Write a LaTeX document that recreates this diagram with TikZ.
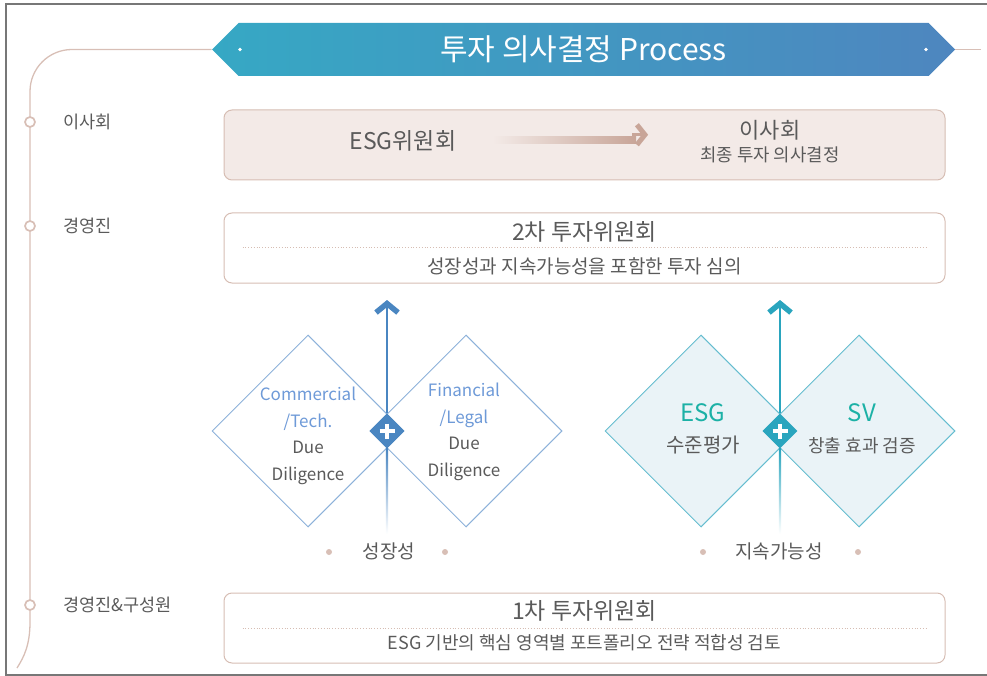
\documentclass[tikz,border=0pt]{standalone}
\usepackage{fontspec}
\setmainfont{Noto Sans CJK KR}
\usepackage{tikz}
\usetikzlibrary{arrows,arrows.meta,shapes,positioning,calc}
\definecolor{lineBrown}{HTML}{D8BFB6}
\definecolor{textGray}{HTML}{5A5A5A}
\definecolor{frameGray}{HTML}{777777}
\definecolor{boardFill}{HTML}{F3EAE7}
\definecolor{boxBorder}{HTML}{D6BDB3}
\definecolor{arrowBrown}{HTML}{C8A598}
\definecolor{growthBlue}{HTML}{4A86C1}
\definecolor{growthText}{HTML}{6E9AD8}
\definecolor{growthEdge}{HTML}{8DB2DA}
\definecolor{susTeal}{HTML}{2AA5BE}
\definecolor{susEdge}{HTML}{66BDD0}
\definecolor{susFill}{HTML}{EAF3F7}
\definecolor{susText}{HTML}{1CB1A6}
\definecolor{bannerLeft}{HTML}{36A8C4}
\definecolor{bannerRight}{HTML}{4E86BF}
\tikzstyle{titlebanner} = [signal, signal to=west and east, signal pointer angle=90,
    left color=bannerLeft, right color=bannerRight, minimum width=743pt,
    minimum height=53pt, inner sep=0pt, text=white, font=\fontsize{30}{32}\selectfont]
\tikzstyle{timeline} = [draw=lineBrown, line width=1.3pt]
\tikzstyle{stepdot} = [circle, draw=lineBrown, fill=white, line width=1.7pt,
    minimum size=10pt, inner sep=0pt]
\tikzstyle{rolelabel} = [text=textGray, font=\fontsize{17.5}{19}\selectfont, inner sep=0pt]
\tikzstyle{rowbox} = [rectangle, draw=boxBorder, line width=1pt, rounded corners=8pt,
    minimum width=721pt, minimum height=70pt]
\tikzstyle{boardbox} = [rowbox, fill=boardFill]
\tikzstyle{headtext} = [text=textGray, font=\fontsize{23}{25}\selectfont]
\tikzstyle{subtext} = [text=textGray, font=\fontsize{19}{21}\selectfont]
\tikzstyle{dotline} = [draw=boxBorder, dotted, line width=0.8pt]
\tikzstyle{growthdiamond} = [diamond, aspect=1, draw=growthEdge, line width=1pt, fill=white,
    minimum width=192pt, minimum height=192pt, inner sep=0pt]
\tikzstyle{susdiamond} = [growthdiamond, draw=susEdge, fill=susFill]
\tikzstyle{diamondtext} = [text=textGray, align=center, font=\fontsize{17}{26.7}\selectfont]
\tikzstyle{badge} = [diamond, aspect=1, minimum width=35pt, minimum height=35pt, inner sep=0pt]
\tikzstyle{plussign} = [draw=white, line width=4pt]
\tikzstyle{uparrow} = [line width=2.4pt, -{Straight Barb[length=9pt,width=22pt,line width=5.5pt]}]
\tikzstyle{pairdot} = [circle, fill=lineBrown, minimum size=6pt, inner sep=0pt]

\begin{document}
\begin{tikzpicture}[x=1pt, y=-1pt]
    \useasboundingbox (0,0) rectangle (987,676);
    \draw[frameGray, line width=1.2pt] (6,4) rectangle (1000,675);

    % Place nodes
    \node [titlebanner] (titleBanner) at (583.5,49.5) {투자 의사결정 Process};
    \fill [white] (240,49.5) circle (1.8pt) (926,49.5) circle (1.8pt);

    \draw [timeline, rounded corners=42pt] (titleBanner.west) -- (30,49.5) [sharp corners] -- (30,622)
        .. controls (30,645) and (24,657) .. (17,668);
    \draw [timeline] (titleBanner.east) -- (981,49.5);

    \node [stepdot] (dotBoard) at (30,122) {}; \node [rolelabel, right=27pt of dotBoard] (roleBoard) {이사회};
    \node [stepdot] (dotMgmt)  at (30,226) {}; \node [rolelabel, right=27pt of dotMgmt]  (roleMgmt)  {경영진};
    \node [stepdot] (dotStaff) at (30,605) {}; \node [rolelabel, right=27pt of dotStaff] (roleStaff) {경영진\&구성원};

    % board row
    \node [boardbox] (boardRow) at (584.5,145) {};
    \node [headtext] (esgCom) at (403,141) {ESG위원회};
    \node [headtext, font=\fontsize{22}{24}\selectfont] (boardDec) at (770,130) {이사회};
    \node [subtext, font=\fontsize{17.8}{19}\selectfont, below=0pt of boardDec] (boardSub) {최종 투자 의사결정};
    \shade [left color=boardFill, right color=arrowBrown]
        ($(esgCom.east)+(33,3)$) rectangle ($(boardDec.west)+(-100,6.5)$);
    \draw [arrowBrown, line width=3pt, -{Straight Barb[length=8pt,width=20pt,line width=5pt]}]
        ($(boardDec.west)+(-104,4.75)$) -- ($(boardDec.west)+(-88,4.75)$);

    % second committee
    \node [rowbox] (secondCom) at (584.5,248) {};
    \node [headtext] (secondTitle) at (584.5,232) {2차 투자위원회};
    \draw [dotline] ($(secondCom.west)+(19,-1)$) -- ($(secondCom.east)+(-18,-1)$);
    \node [subtext] (secondSub) at (584.5,266) {성장성과 지속가능성을 포함한 투자 심의};

    % growth pair
    \node [growthdiamond] (commDD) at (308,431) {};
    \node [growthdiamond] (finDD)  at (466,431) {};
    \node [badge, fill=growthBlue] (badgeG) at (387,431) {};
    \coordinate (growthTop) at (387,300);
    \shade [top color=growthBlue, bottom color=white] ($(badgeG.south)+(-1.2,0)$) rectangle ($(badgeG.south)+(1.2,85)$);
    \draw [uparrow, growthBlue] (badgeG.north) -- (growthTop);
    \node [badge, fill=growthBlue] at (badgeG) {};
    \draw [plussign] ($(badgeG)+(-7.5,0)$) -- ($(badgeG)+(7.5,0)$) ($(badgeG)+(0,-7.5)$) -- ($(badgeG)+(0,7.5)$);
    \node [diamondtext] (commText) at (308,436) {\textcolor{growthText}{Commercial}\\\textcolor{growthText}{/Tech.}\\Due\\Diligence};
    \node [diamondtext] (finText)  at (464,432) {\textcolor{growthText}{Financial}\\\textcolor{growthText}{/Legal}\\Due\\Diligence};
    \node [subtext] (growthLabel) at (389,551) {성장성};
    \node [pairdot] (growthDotL) at (329,552) {};
    \node [pairdot] (growthDotR) at (445,552) {};

    % sustainability pair
    \node [susdiamond] (esgDD) at (701,431) {};
    \node [susdiamond] (svDD)  at (859,431) {};
    \node [badge] (badgeS) at (780,431) {};
    \coordinate (susTop) at (780,300);
    \shade [top color=susTeal, bottom color=white] ($(badgeS.south)+(-1.2,0)$) rectangle ($(badgeS.south)+(1.2,85)$);
    \draw [uparrow, susTeal] (badgeS.north) -- (susTop);
    \node [badge, fill=susTeal] at (badgeS) {};
    \draw [plussign] ($(badgeS)+(-7.5,0)$) -- ($(badgeS)+(7.5,0)$) ($(badgeS)+(0,-7.5)$) -- ($(badgeS)+(0,7.5)$);
    \node [diamondtext, font=\fontsize{24}{26}\selectfont, text=susText] (esgText) at (703,413) {ESG};
    \node [diamondtext, font=\fontsize{20}{22}\selectfont, below=7pt of esgText] (esgSub) {수준평가};
    \node [diamondtext, font=\fontsize{24}{26}\selectfont, text=susText] (svText) at (862,413) {SV};
    \node [diamondtext, font=\fontsize{18}{20}\selectfont, below=8pt of svText] (svSub) {창출 효과 검증};
    \node [subtext] (susLabel) at (779,551) {지속가능성};
    \node [pairdot] (susDotL) at (703,552) {};
    \node [pairdot] (susDotR) at (858,552) {};

    % first committee
    \node [rowbox] (firstCom) at (584.5,628) {};
    \node [headtext] (firstTitle) at (584.5,611) {1차 투자위원회};
    \draw [dotline] ($(firstCom.west)+(19,0)$) -- ($(firstCom.east)+(-18,0)$);
    \node [subtext, font=\fontsize{18}{20}\selectfont] (firstSub) at (584.5,643) {ESG 기반의 핵심 영역별 포트폴리오 전략 적합성 검토};
\end{tikzpicture}
\end{document}
